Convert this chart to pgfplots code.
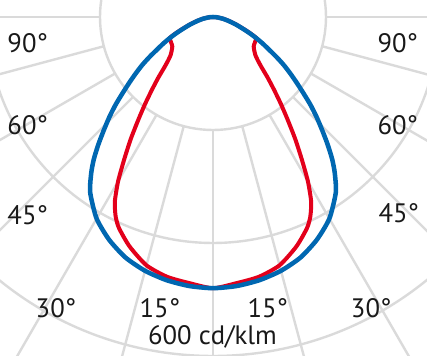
\documentclass[border=0pt]{standalone}
\usepackage{pgfplots}
\pgfplotsset{compat=1.18}
\usepackage{pgfplotstable}
\usepackage{fontspec}
\setmainfont{PT Sans}
\definecolor{ldcblue}{RGB}{0,103,177}
\definecolor{ldcred}{RGB}{227,0,27}
\definecolor{gridc}{RGB}{218,218,218}

\pgfplotstableread{
a r
-90 0
-87 4.4
-84 9
-80 18
-76 28
-72 42
-70 50
-68 60
-66 72
-64 85
-62 99
-60 113
-58 131
-56 150
-54 168
-52 187
-50 208
-48 232
-46 255
-44 278
-42 303
-40 328
-38 350
-35 379
-30 412
-25 435
-20 453
-15 465
-10 473
-5 478
0 480
5 478
10 473
15 465
20 453
25 435
30 412
35 379
38 350
40 328
42 303
44 278
46 255
48 232
50 208
52 187
54 168
56 150
58 131
60 113
62 99
64 85
66 72
68 60
70 50
72 42
76 28
80 18
84 9
87 4.4
90 0
}\bluedata

\pgfplotstableread{
a r
-90 0
-87 4.6
-84 9.4
-80 18.6
-76 29
-72 43
-70 51
-68 62
-66 74
-64 86
-62 86
-58 87
-54 89
-50 96
-48 101
-46 110
-44 124
-42 145
-40 168
-38 195
-36 225
-34 260
-32 296
-30 336
-28 370
-26 393
-24 409
-20 432
-15 455
-10 467
-5 473
0 480
5 473
10 467
15 455
20 432
24 409
26 393
28 370
30 336
32 296
34 260
36 225
38 195
40 168
42 145
44 124
46 110
48 101
50 96
54 89
58 87
62 86
64 86
66 74
68 62
70 51
72 43
76 29
80 18.6
84 9.4
87 4.6
90 0
}\reddata

\begin{document}
\begin{tikzpicture}
\begin{axis}[
  hide axis,
  x=0.42372pt, y=0.42372pt,
  xmin=-377, xmax=378.8,
  ymin=-600, ymax=30.1,
  clip=true,
]
% grid circles
\draw[gridc, line width=1.8pt] (axis cs:0,0) circle[radius=200];
\draw[gridc, line width=1.8pt] (axis cs:0,0) circle[radius=400];
\draw[gridc, line width=1.8pt] (axis cs:0,0) circle[radius=600];
% spokes
\pgfplotsinvokeforeach{-90,-75,-60,-45,-30,-15,0,15,30,45,60,75,90}{
  \draw[gridc, line width=1.8pt] (axis cs:{200*sin(#1)},{-200*cos(#1)}) -- (axis cs:{900*sin(#1)},{-900*cos(#1)});
}
% curves
\addplot[ldcred, line width=3pt, smooth, tension=0.4, line cap=round, line join=round]
  table[x expr={\thisrow{r}*sin(\thisrow{a})}, y expr={-\thisrow{r}*cos(\thisrow{a})}] {\reddata};
\addplot[ldcblue, line width=3.4pt, smooth, tension=0.4, line cap=round, line join=round]
  table[x expr={\thisrow{r}*sin(\thisrow{a})}, y expr={-\thisrow{r}*cos(\thisrow{a})}] {\bluedata};
% labels
\begin{scope}[every node/.style={font=\fontsize{20}{23}\selectfont, text=black!90, inner sep=0pt}]
\node at (axis cs:-328,-46) {90°};
\node at (axis cs:327,-46) {90°};
\node at (axis cs:-328,-191) {60°};
\node at (axis cs:327,-191) {60°};
\node at (axis cs:-328,-350) {45°};
\node at (axis cs:329,-347) {45°};
\node at (axis cs:-278,-515) {30°};
\node at (axis cs:-94,-515) {15°};
\node at (axis cs:97,-515) {15°};
\node at (axis cs:280,-515) {30°};
\node at (axis cs:-1,-566) {600 cd/klm};
\end{scope}
\end{axis}
\pgfresetboundingbox
\useasboundingbox (current axis.south west) rectangle (current axis.north east);
\end{tikzpicture}
\end{document}
